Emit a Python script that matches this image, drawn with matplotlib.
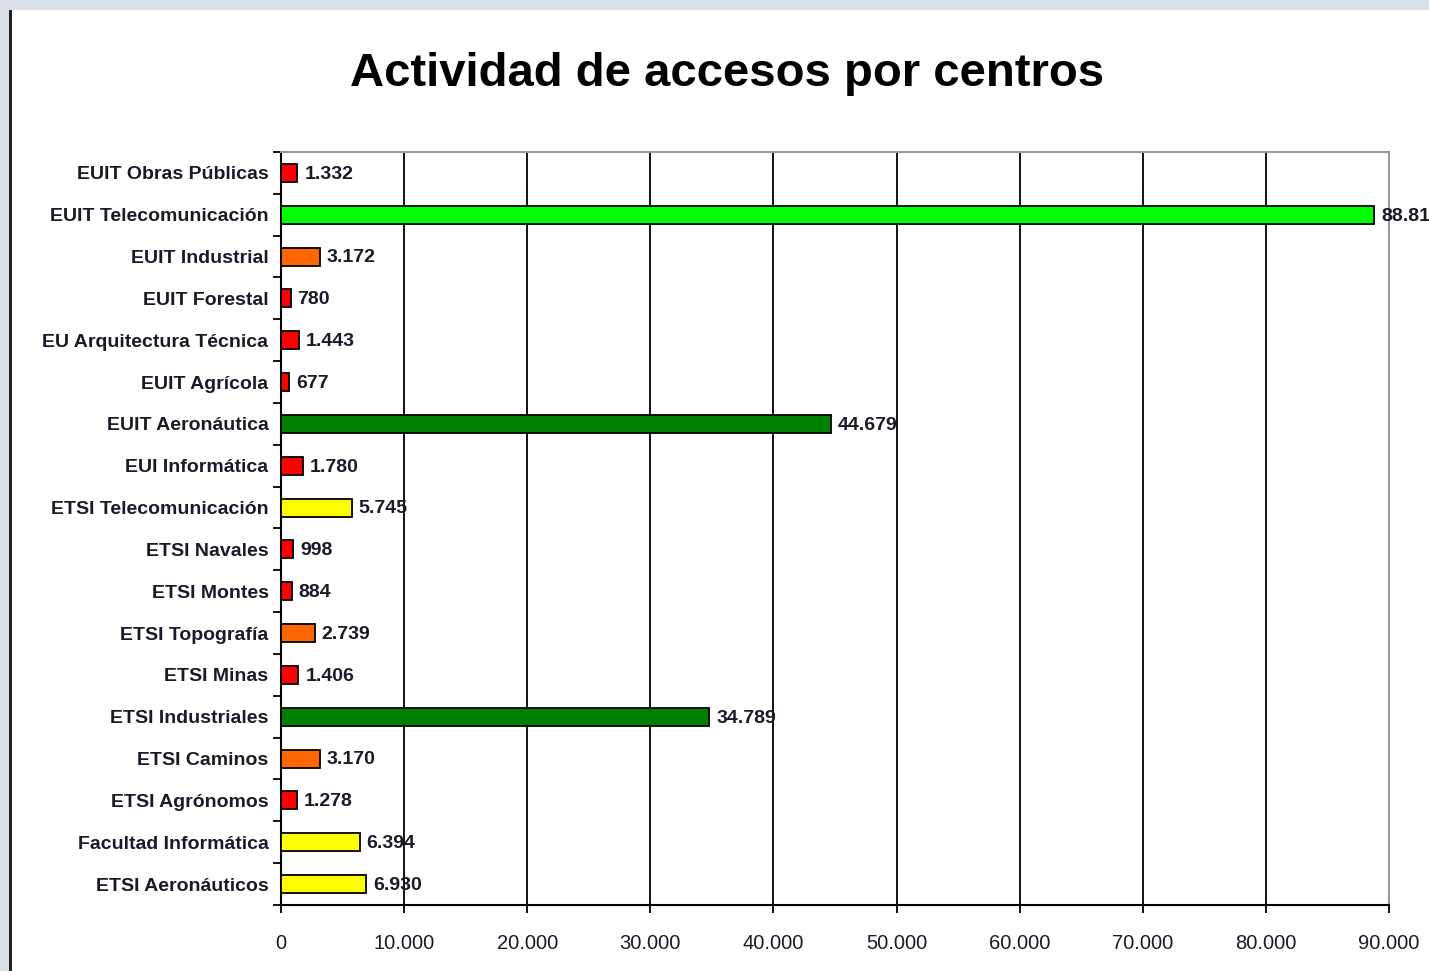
import numpy as np
import matplotlib
matplotlib.use("Agg")
import matplotlib.pyplot as plt
from matplotlib.patches import Rectangle

plt.rcParams["font.family"] = ["Liberation Sans", "DejaVu Sans"]

centros = [
    "EUIT Obras Públicas", "EUIT Telecomunicación", "EUIT Industrial",
    "EUIT Forestal", "EU Arquitectura Técnica", "EUIT Agrícola",
    "EUIT Aeronáutica", "EUI Informática", "ETSI Telecomunicación",
    "ETSI Navales", "ETSI Montes", "ETSI Topografía", "ETSI Minas",
    "ETSI Industriales", "ETSI Caminos", "ETSI Agrónomos",
    "Facultad Informática", "ETSI Aeronáuticos",
]
accesos = [1332, 88819, 3172, 780, 1443, 677, 44679, 1780, 5745,
           998, 884, 2739, 1406, 34789, 3170, 1278, 6394, 6930]
colores = ["#ff0000", "#00ff00", "#ff6600", "#ff0000", "#ff0000", "#ff0000",
           "#008000", "#ff0000", "#ffff00", "#ff0000", "#ff0000", "#ff6600",
           "#ff0000", "#008000", "#ff6600", "#ff0000", "#ffff00", "#ffff00"]
xticks = list(range(0, 90001, 10000))


def miles(v):
    return f"{v:,}".replace(",", ".")


fig = plt.figure(figsize=(14.29, 9.71), dpi=100)
fig.patch.set_facecolor("white")

# window frame (grey band on top/left, dark line)
fig.add_artist(Rectangle((0, 1 - 10 / 971), 1, 10 / 971, transform=fig.transFigure,
                         facecolor="#d9dfe6", edgecolor="none"))
fig.add_artist(Rectangle((0, 0), 9 / 1429, 1, transform=fig.transFigure,
                         facecolor="#d9dfe6", edgecolor="none"))
fig.add_artist(Rectangle((9 / 1429, 0), 3 / 1429, 1 - 10 / 971,
                         transform=fig.transFigure, facecolor="#222222",
                         edgecolor="none"))

ax = fig.add_axes([281 / 1429, 1 - 905 / 971, 1108 / 1429, 753 / 971])
n = len(centros)
ys = np.arange(n)
ax.barh(ys, accesos, height=0.43, color=colores, edgecolor="black",
        linewidth=1.3, zorder=3)
for y, v in zip(ys, accesos):
    ax.annotate(miles(v), (v, y), xytext=(5, -1), textcoords="offset points",
                va="center", ha="left", fontsize=14, fontweight="bold",
                color="#1a1a2a", annotation_clip=False, zorder=4)

ax.set_xlim(0, 90000)
ax.set_ylim(n - 0.5, -0.5)
ax.set_xticks(xticks)
ax.set_xticklabels([miles(t) for t in xticks], fontsize=14.5, color="#1a1a2a")
ax.set_yticks(ys)
ax.set_yticklabels(centros, fontsize=14, fontweight="bold", color="#1a1a2a")
ax.set_yticks(np.arange(n + 1) - 0.5, minor=True)
ax.tick_params(axis="y", which="major", length=0, pad=9)
ax.tick_params(axis="y", which="minor", length=6, width=1.3, direction="out")
ax.tick_params(axis="x", length=6, width=1.3, pad=15, direction="out")

ax.grid(True, axis="x", color="black", linewidth=1.3, zorder=0)
for s in ("left", "bottom"):
    ax.spines[s].set_color("black")
    ax.spines[s].set_linewidth(1.5)
for s in ("top", "right"):
    ax.spines[s].set_color("#999999")
    ax.spines[s].set_linewidth(1.5)

fig.text(727 / 1429, 1 - 74 / 971, "Actividad de accesos por centros",
         ha="center", va="center", fontsize=34, fontweight="bold")

fig.savefig("out.png", dpi=100, facecolor="white")
